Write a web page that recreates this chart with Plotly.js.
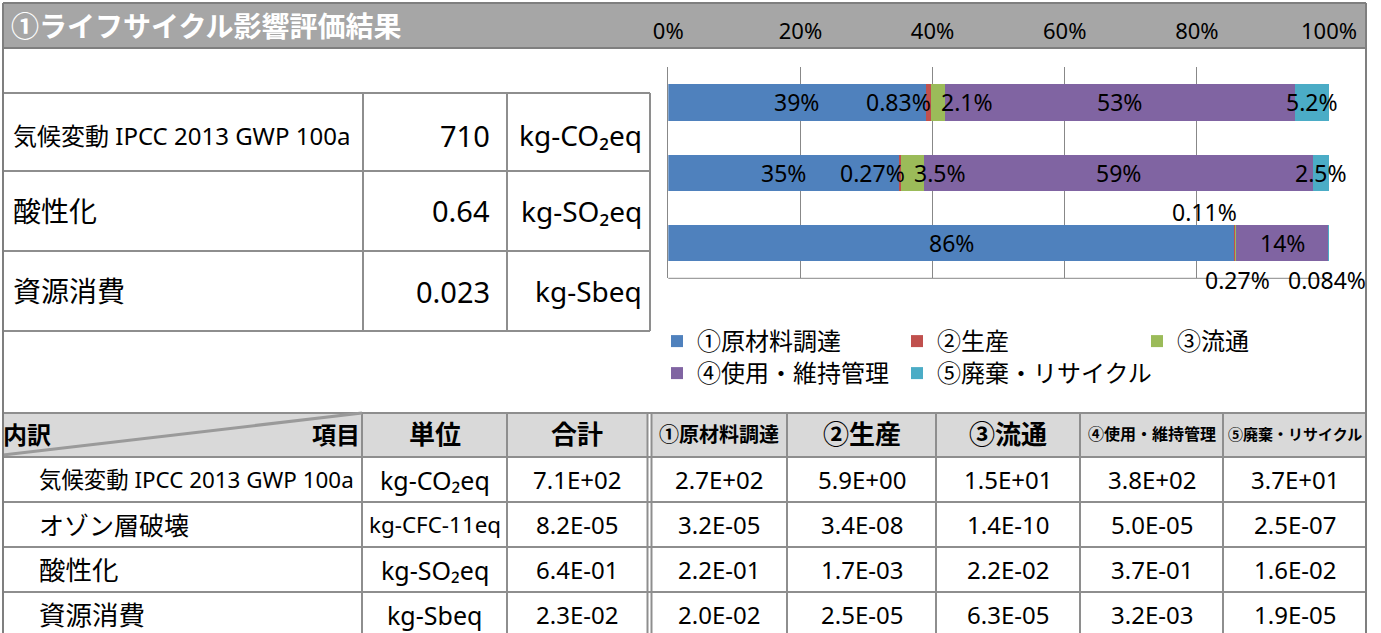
<!DOCTYPE html>
<html>
<head>
<meta charset="utf-8">
<script src="https://cdn.plot.ly/plotly-3.0.1.min.js"></script>
<style>
html,body{margin:0;padding:0;background:#ffffff;}
#chart{width:1381px;height:633px;}
</style>
</head>
<body>
<div id="chart"></div>
<script>
// ---------------- DATA ----------------
const pageTitle = '①ライフサイクル影響評価結果';
const categories = ['気候変動', '酸性化', '資源消費'];
const stageNames = ['①原材料調達', '②生産', '③流通', '④使用・維持管理', '⑤廃棄・リサイクル'];
const shareRaw = [39, 35, 86];
const shareProduction = [0.83, 0.27, 0.11];
const shareDistribution = [2.1, 3.5, 0.27];
const shareUse = [53, 59, 14];
const shareDisposal = [5.2, 2.5, 0.084];
const tickValues = [0, 20, 40, 60, 80, 100];
const tickLabels = ['0%', '20%', '40%', '60%', '80%', '100%'];

const summaryNames = ['気候変動 IPCC 2013 GWP 100a', '酸性化', '資源消費'];
const summaryValues = ['710', '0.64', '0.023'];
const summaryUnits = ['kg-CO₂eq', 'kg-SO₂eq', 'kg-Sbeq'];

const cornerLeft = '内訳';
const cornerRight = '項目';
const headerLabels = ['単位', '合計'].concat(stageNames);
const impactNames = ['気候変動 IPCC 2013 GWP 100a', 'オゾン層破壊', '酸性化', '資源消費'];
const impactUnits = ['kg-CO₂eq', 'kg-CFC-11eq', 'kg-SO₂eq', 'kg-Sbeq'];
const totalValues = ['7.1E+02', '8.2E-05', '6.4E-01', '2.3E-02'];
const rawValues = ['2.7E+02', '3.2E-05', '2.2E-01', '2.0E-02'];
const productionValues = ['5.9E+00', '3.4E-08', '1.7E-03', '2.5E-05'];
const distributionValues = ['1.5E+01', '1.4E-10', '2.2E-02', '6.3E-05'];
const useValues = ['3.8E+02', '5.0E-05', '3.7E-01', '3.2E-03'];
const disposalValues = ['3.7E+01', '2.5E-07', '1.6E-02', '1.9E-05'];

// ---------------- STYLE / LAYOUT CONSTANTS ----------------
const W = 1381, H = 633;
const px = x => x / W;
const py = y => 1 - y / H;
const FONT = "'Noto Sans', 'Noto Sans CJK JP', sans-serif";
const seriesColors = ['#4F81BD', '#C0504D', '#9BBB59', '#8064A2', '#4BACC6'];
const shares = [shareRaw, shareProduction, shareDistribution, shareUse, shareDisposal];
// pixel offsets of the data labels that were moved away from tiny segments
const labelShift = {
  '1,0': [-30, 0], '2,0': [29, 0],
  '1,1': [-27, 0], '2,1': [28, 0],
  '1,2': [-30, 31], '2,2': [2, -37], '4,2': [-2, -37]
};
const legendWidths = [195, 195, 195, 195, 260];

const gridGray = '#8E8E8E';
const frameGray = '#7F7F7F';

// ---------------- TRACES ----------------
const traces = shares.map((vals, i) => ({
  type: 'bar',
  orientation: 'h',
  y: categories,
  x: vals,
  name: stageNames[i],
  marker: { color: seriesColors[i], line: { width: 0 } },
  textposition: 'none',
  hoverinfo: 'skip',
  legend: i < 3 ? 'legend' : 'legend2',
  legendwidth: legendWidths[i]
}));

// ---------------- ANNOTATIONS ----------------
const annotations = [];
function txt(x, y, text, size, opts) {
  opts = opts || {};
  annotations.push({
    xref: 'paper', yref: 'paper', x: px(x), y: py(y), text: text,
    showarrow: false, xanchor: opts.anchor || 'left', yanchor: 'middle',
    font: { family: FONT, size: size, color: opts.color || '#000000' }
  });
}

// bar data labels (positions computed from the normalised stack)
const catTotals = categories.map((c, j) => shares.reduce((s, arr) => s + arr[j], 0));
categories.forEach((c, j) => {
  let cum = 0;
  shares.forEach((arr, i) => {
    const start = cum / catTotals[j] * 100;
    cum += arr[j];
    const end = cum / catTotals[j] * 100;
    const sh = labelShift[i + ',' + j] || [0, 0];
    annotations.push({
      xref: 'x', yref: 'y', x: (start + end) / 2, y: c,
      text: String(arr[j]) + '%', showarrow: false,
      xshift: sh[0], yshift: sh[1],
      font: { family: FONT, size: 23, color: '#000000' }
    });
  });
});

// title
txt(9, 26, '<b>' + pageTitle + '</b>', 28, { color: '#FFFFFF' });

// summary table
const sumRowY = [135, 211, 291];
const sumNameSize = [24, 28, 28];
summaryNames.forEach((n, r) => {
  txt(11, sumRowY[r], n, sumNameSize[r]);
  txt(492, sumRowY[r], summaryValues[r], 29, { anchor: 'right' });
  txt(644, sumRowY[r], summaryUnits[r], 28, { anchor: 'right' });
});

// lower table
const colEdges = [3, 362, 507, 647.5, 651.5, 787, 936, 1080, 1223, 1366];
const colCenters = [
  (362 + 507) / 2, (507 + 647.5) / 2, (651.5 + 787) / 2, (787 + 936) / 2,
  (936 + 1080) / 2, (1080 + 1223) / 2, (1223 + 1366) / 2
];
const headerSizes = [26, 26, 20, 26, 26, 16, 15];
const headerY = 434;
txt(1, headerY, '<b>' + cornerLeft + '</b>', 24);
txt(362, headerY, '<b>' + cornerRight + '</b>', 24, { anchor: 'right' });
headerLabels.forEach((h, k) => txt(colCenters[k], headerY, '<b>' + h + '</b>', headerSizes[k], { anchor: 'center' }));

const rowY = [479.5, 524.5, 569.5, 614.5];
const nameSizes = [22.4, 25, 26.5, 26.5];
const unitSizes = [25, 22.4, 25, 25];
const valueCols = [totalValues, rawValues, productionValues, distributionValues, useValues, disposalValues];
impactNames.forEach((n, r) => {
  txt(37, rowY[r], n, nameSizes[r]);
  txt(colCenters[0], rowY[r], impactUnits[r], unitSizes[r], { anchor: 'center' });
  valueCols.forEach((col, k) => txt(colCenters[k + 1], rowY[r], col[r], 24, { anchor: 'center' }));
});

// ---------------- SHAPES ----------------
const shapes = [];
function rect(x0, y0, x1, y1, fill) {
  shapes.push({ type: 'rect', xref: 'paper', yref: 'paper', x0: px(x0), x1: px(x1), y0: py(y1), y1: py(y0),
    fillcolor: fill, line: { width: 0 }, layer: 'below' });
}
function line(x0, y0, x1, y1, color, width) {
  shapes.push({ type: 'line', xref: 'paper', yref: 'paper', x0: px(x0), x1: px(x1), y0: py(y0), y1: py(y1),
    line: { color: color, width: width }, layer: 'above' });
}
// title bar
rect(3, 3, 1366, 48, '#A6A6A6');
// header fills
rect(3, 413, 647.5, 457, '#D9D9D9');
rect(651.5, 413, 1366, 457, '#D9D9D9');
// summary table grid
[93, 171, 251, 331].forEach(y => line(3, y, 650, y, gridGray, 2));
[363, 507, 650].forEach(x => line(x, 93, x, 331, gridGray, 2));
// lower table grid
[413, 457, 502, 547, 592].forEach(y => line(3, y, 1366, y, gridGray, 2));
colEdges.slice(1, -1).forEach(x => line(x, 413, x, 633, gridGray, 2));
line(3, 455, 362, 413, '#9A9A9A', 3);
// frame
line(3, 3, 1366, 3, frameGray, 2);
line(3, 48, 1366, 48, frameGray, 2);
line(3, 3, 3, 633, frameGray, 2);
line(1366, 3, 1366, 633, frameGray, 2);
// bottom edge of the bar plot area
shapes.push({ type: 'line', xref: 'x domain', yref: 'y domain', x0: 0, x1: 1, y0: 0, y1: 0,
  line: { color: '#888888', width: 1 } });

// ---------------- LAYOUT ----------------
const legendBase = {
  orientation: 'h', xanchor: 'left', yanchor: 'middle', x: px(657),
  entrywidth: 195, entrywidthmode: 'pixels', itemwidth: 30,
  font: { family: FONT, size: 24, color: '#000000' },
  bgcolor: 'rgba(0,0,0,0)', borderwidth: 0, traceorder: 'normal',
  itemclick: false, itemdoubleclick: false
};
const layout = {
  width: W, height: H,
  margin: { l: 0, r: 0, t: 0, b: 0, pad: 0 },
  paper_bgcolor: '#FFFFFF', plot_bgcolor: 'rgba(0,0,0,0)',
  font: { family: FONT, color: '#000000' },
  barmode: 'stack', barnorm: 'percent', bargap: 0.483,
  showlegend: true,
  legend: Object.assign({}, legendBase, { y: py(341.5) }),
  legend2: Object.assign({}, legendBase, { y: py(373.5) }),
  xaxis: {
    domain: [px(668.3), px(1329)], range: [0, 100], autorange: false,
    side: 'top', anchor: 'free', position: py(43.5),
    tickmode: 'array', tickvals: tickValues, ticktext: tickLabels,
    ticks: '', showline: false, zeroline: false,
    showgrid: true, gridcolor: '#888888', gridwidth: 1,
    tickfont: { family: FONT, size: 22, color: '#000000' },
    fixedrange: true
  },
  yaxis: {
    domain: [py(278.3), py(67.3)],
    type: 'category', categoryorder: 'array', categoryarray: categories,
    range: [2.5, -0.5], autorange: false,
    showticklabels: false, ticks: '', showgrid: false, zeroline: false,
    showline: true, linecolor: '#888888', linewidth: 1,
    fixedrange: true
  },
  shapes: shapes,
  annotations: annotations
};

Plotly.newPlot('chart', traces, layout, { displayModeBar: false, staticPlot: true });
</script>
</body>
</html>
